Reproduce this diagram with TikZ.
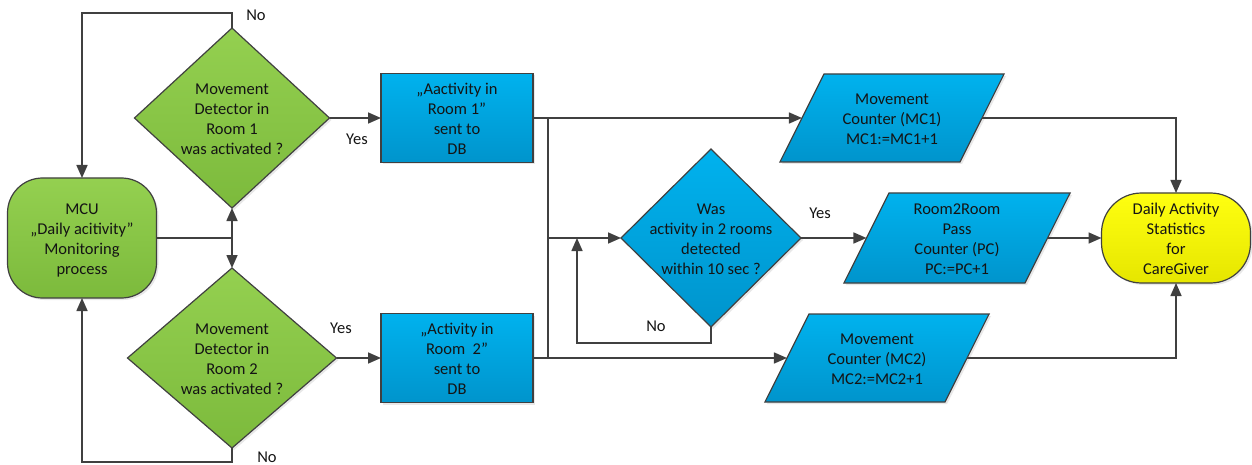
\documentclass[tikz,border=0pt]{standalone}
\usepackage{fontspec}
\setmainfont{Carlito}
\usetikzlibrary{shapes.geometric,arrows.meta,shadows}
\definecolor{lineg}{HTML}{404040}
\definecolor{txt}{HTML}{141414}
\definecolor{gtop}{HTML}{94D050}
\definecolor{gbot}{HTML}{7CBA3C}
\definecolor{btop}{HTML}{00B2EE}
\definecolor{bbot}{HTML}{0094CC}
\definecolor{ytop}{HTML}{FFFF10}
\definecolor{ybot}{HTML}{E6E600}
\newcommand{\ctext}[1]{\smash{\raisebox{-6.5pt}{\makebox[0pt]{\begin{tabular}{@{}c@{}}#1\end{tabular}}}}}
\tikzset{
  base/.style={draw=lineg, line width=1.2pt, inner sep=0pt, outer sep=0pt, text=txt,
    drop shadow={opacity=0.18, shadow xshift=2pt, shadow yshift=-2pt}},
  green/.style={base, top color=gtop, bottom color=gbot},
  blue/.style={base, top color=btop, bottom color=bbot},
  yel/.style={base, top color=ytop, bottom color=ybot},
  dia/.style={diamond, minimum width=#1, minimum height=180pt},
  para/.style={trapezium, trapezium left angle=63.4, trapezium right angle=116.6,
    inner xsep=68pt, inner ysep=#1},
  conn/.style={draw=lineg, line width=1.6pt},
  arr/.style={conn, -{Triangle[length=13pt,width=11pt]}},
  lbl/.style={text=txt, inner sep=0pt}
}
\begin{document}
\begin{tikzpicture}[x=1pt,y=-1pt, font=\fontsize{16.5}{20}\selectfont]
\useasboundingbox (0,0) rectangle (1252,465);
% nodes
\node[green, rectangle, rounded corners=35pt, minimum width=149pt, minimum height=120pt] (mcu) at (82,238)
  {\ctext{MCU\\„Daily acitivity”\\Monitoring\\process}};
\node[green, dia=195pt] (d1) at (232,118) {\ctext{Movement\\Detector in\\Room 1\\was activated ?}};
\node[green, dia=209pt] (d2) at (232,358) {\ctext{Movement\\Detector in\\Room 2\\was activated ?}};
\node[blue, rectangle, minimum width=152pt, minimum height=89pt] (b1) at (457,118)
  {\ctext{„Aactivity in\\Room 1”\\sent to\\DB}};
\node[blue, rectangle, minimum width=152pt, minimum height=89pt] (b2) at (457,358)
  {\ctext{„Activity in\\Room\ \ 2”\\sent to\\DB}};
\node[blue, dia=180pt, minimum height=178pt] (d3) at (711,238)
  {\ctext{Was\\activity in 2 rooms\\detected\\within 10 sec ?}};
\node[blue, para=44pt] (mc1) at (892,118) {\ctext{Movement\\Counter (MC1)\\MC1:=MC1+1}};
\node[blue, para=45pt] (pc) at (957,238) {\ctext{Room2Room\\Pass\\Counter (PC)\\PC:=PC+1}};
\node[blue, para=44pt] (mc2) at (877,358) {\ctext{Movement\\Counter (MC2)\\MC2:=MC2+1}};
\node[yel, rectangle, rounded corners=40pt, minimum width=149pt, minimum height=90pt] (st) at (1176,238)
  {\ctext{Daily Activity\\Statistics\\for\\CareGiver}};
% junction coordinates
\coordinate (j0) at (232,238);
\coordinate (j1) at (548,118);
\coordinate (j2) at (548,358);
\coordinate (j3) at (548,238);
\coordinate (j4) at (577,238);
% connectors
\draw[conn] (mcu.east) -- (j0);
\draw[arr] (j0) -- (d1.south);
\draw[arr] (j0) -- (d2.north);
\draw[arr] (d1.north) -- ++(0,-15) -| (mcu.north);
\draw[arr] (d2.south) -- ++(0,14) -| (mcu.south);
\draw[arr] (d1.east) -- (b1.west);
\draw[arr] (d2.east) -- (b2.west);
\draw[arr] (b1.east) -- (mc1.west);
\draw[arr] (b2.east) -- (mc2.west);
\draw[conn] (j1) -- (j2);
\draw[arr] (j3) -- (d3.west);
\draw[arr] (d3.south) -- ++(0,16) -| (j4);
\draw[arr] (d3.east) -- (pc.west);
\draw[arr] (mc1.east) -| (st.north);
\draw[arr] (pc.east) -- (st.west);
\draw[arr] (mc2.east) -| (st.south);
% labels
\node[lbl] (no1) at (256,15) {No};
\node[lbl] (no2) at (267,457) {No};
\node[lbl] (yes1) at (357,139) {Yes};
\node[lbl] (yes2) at (341,328) {Yes};
\node[lbl] (no3) at (656,326) {No};
\node[lbl] (yes3) at (820,213) {Yes};
\end{tikzpicture}
\end{document}
